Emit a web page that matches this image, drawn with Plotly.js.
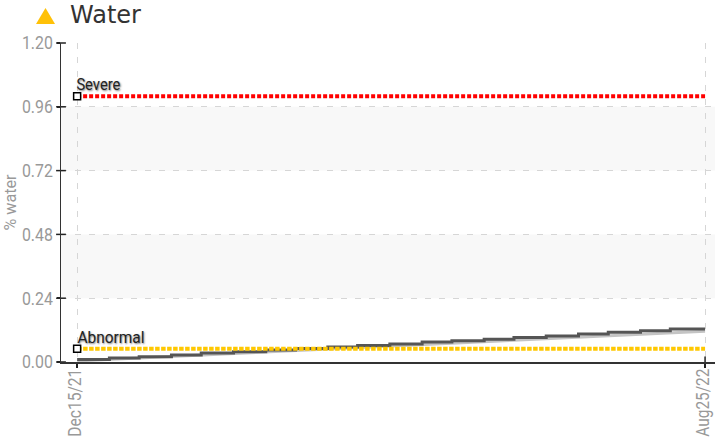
<!DOCTYPE html>
<html><head><meta charset="utf-8">
<script src="https://cdn.plot.ly/plotly-3.0.1.min.js"></script>
<style>html,body{margin:0;padding:0;background:#fff}</style></head>
<body><div id="chart" style="width:715px;height:443px"></div>
<script>
const chartTitle = "Water";
const yAxisTitle = "% water";
const startDate = "2021-12-15";
const endDate = "2022-08-25";
const axisStart = "2021-12-08 12:00";
const axisEnd = "2022-08-29";
const xLabels = ["Dec15/21", "Aug25/22"];
const yTicks = [0, 0.24, 0.48, 0.72, 0.96, 1.2];
const yTickLabels = ["0.00", "0.24", "0.48", "0.72", "0.96", "1.20"];
const severeValue = 1.0;
const abnormalValue = 0.05;
const stepDates = ["2021-12-15","2021-12-28","2022-01-09","2022-01-22","2022-02-03","2022-02-16","2022-03-01","2022-03-13","2022-03-26","2022-04-07","2022-04-20","2022-05-03","2022-05-15","2022-05-28","2022-06-09","2022-06-22","2022-07-05","2022-07-17","2022-07-30","2022-08-11","2022-08-25"];
const stepValues = [0.009,0.015,0.020,0.026,0.034,0.039,0.045,0.051,0.056,0.062,0.068,0.075,0.080,0.086,0.092,0.098,0.105,0.112,0.118,0.124,0.124];
const trendValues = [0.004,0.116];
const bandStarts = [0.24, 0.72];
const bandEnds = [0.48, 0.96];

const condensed = "Roboto,sans-serif";
const shapes = bandStarts.map((s,i)=>({type:"rect",xref:"paper",yref:"y",x0:0,x1:1,y0:s,y1:bandEnds[i],fillcolor:"#f8f8f8",line:{width:0},layer:"below"}));
shapes.push({type:"path",xref:"paper",yref:"paper",xsizemode:"pixel",ysizemode:"pixel",xanchor:0,yanchor:1,path:"M -25 19 L -6 19 L -15.5 35 Z",fillcolor:"#ffc107",line:{width:0}});

const traces = [
 {x:[startDate,endDate],y:trendValues,mode:"lines",line:{color:"#c4c4c4",width:3},hoverinfo:"skip"},
 {x:stepDates,y:stepValues,mode:"lines",line:{color:"#555555",width:3,shape:"hv"},hoverinfo:"skip"},
 {x:[startDate,endDate],y:[severeValue,severeValue],mode:"lines",line:{color:"#ff0000",width:4,dash:"4px,2px"},hoverinfo:"skip"},
 {x:[startDate,endDate],y:[abnormalValue,abnormalValue],mode:"lines",line:{color:"#ffc800",width:4,dash:"4.5px,1.5px"},hoverinfo:"skip"},
 {x:[startDate,startDate],y:[severeValue,abnormalValue],mode:"markers",
  marker:{symbol:"square",size:7,color:"#ffffff",line:{color:"#000000",width:1.5}},cliponaxis:false,hoverinfo:"skip"},
 {x:yTicks.map(()=>axisStart),y:yTicks,mode:"markers",marker:{symbol:"line-ew",size:7,line:{color:"#222222",width:1.5}},cliponaxis:false,hoverinfo:"skip"},
 {x:[endDate],y:[0],mode:"markers",marker:{symbol:"line-ns",size:8,line:{color:"#222222",width:1.5}},cliponaxis:false,hoverinfo:"skip"}
];

const noteFont = {family:condensed,size:17,color:"#222222",shadow:"1px 1px 2px #777777"};
const layout = {
 width:715,height:443,showlegend:false,paper_bgcolor:"#ffffff",plot_bgcolor:"#ffffff",
 margin:{l:61,r:0,t:43,b:81,pad:0},
 shapes:shapes,
 xaxis:{type:"date",range:[axisStart,axisEnd],tickmode:"array",tickvals:[startDate,endDate],ticktext:xLabels,
  tickangle:-90,ticks:"outside",ticklen:4,tickcolor:"#222222",tickwidth:1.5,ticklabelstandoff:-6,ticklabelshift:-2,tickfont:{family:condensed,size:18,color:"#999999"},
  showgrid:true,gridcolor:"#d6d6d6",griddash:"6px,8px",gridwidth:1,showline:true,linecolor:"#333333",linewidth:1.5,zeroline:false},
 yaxis:{range:[0,1.2],tickmode:"array",tickvals:yTicks,ticktext:yTickLabels,ticks:"outside",ticklen:3,tickcolor:"#222222",tickwidth:1.5,
  tickfont:{family:condensed,size:18,color:"#999999"},title:{text:yAxisTitle,font:{family:condensed,size:17,color:"#999999"},standoff:0},
  showgrid:true,gridcolor:"#d6d6d6",griddash:"6px,8px",gridwidth:1,showline:true,linecolor:"#333333",linewidth:1.5,zeroline:false},
 annotations:[
  {xref:"paper",yref:"paper",x:0,xanchor:"left",xshift:7,y:1,yanchor:"bottom",yshift:12,showarrow:false,text:chartTitle,font:{family:"'DejaVu Sans',sans-serif",size:24,color:"#333333"}},
  {xref:"x",yref:"y",x:startDate,y:severeValue,xanchor:"center",xshift:21,yanchor:"bottom",yshift:0,showarrow:false,text:"Severe",font:noteFont},
  {xref:"x",yref:"y",x:startDate,y:abnormalValue,xanchor:"center",xshift:33.5,yanchor:"bottom",yshift:0,showarrow:false,text:"Abnormal",font:noteFont}
 ]
};
function fit(sel,len){document.querySelectorAll(sel).forEach(t=>{const l=typeof len==="function"?len(t):len;t.setAttribute("textLength",l);t.setAttribute("lengthAdjust","spacingAndGlyphs");});}
Plotly.newPlot("chart",traces,layout,{displayModeBar:false,staticPlot:true}).then(()=>{
 fit("#chart .xtick text",68);
 fit("#chart .ytick text",31);
 fit("#chart .ytitle",56);
 fit("#chart .annotation-text",t=>{const s=t.textContent;const w={"Severe":44,"Abnormal":67}[s];return w||t.getComputedTextLength();});
});
</script></body></html>
